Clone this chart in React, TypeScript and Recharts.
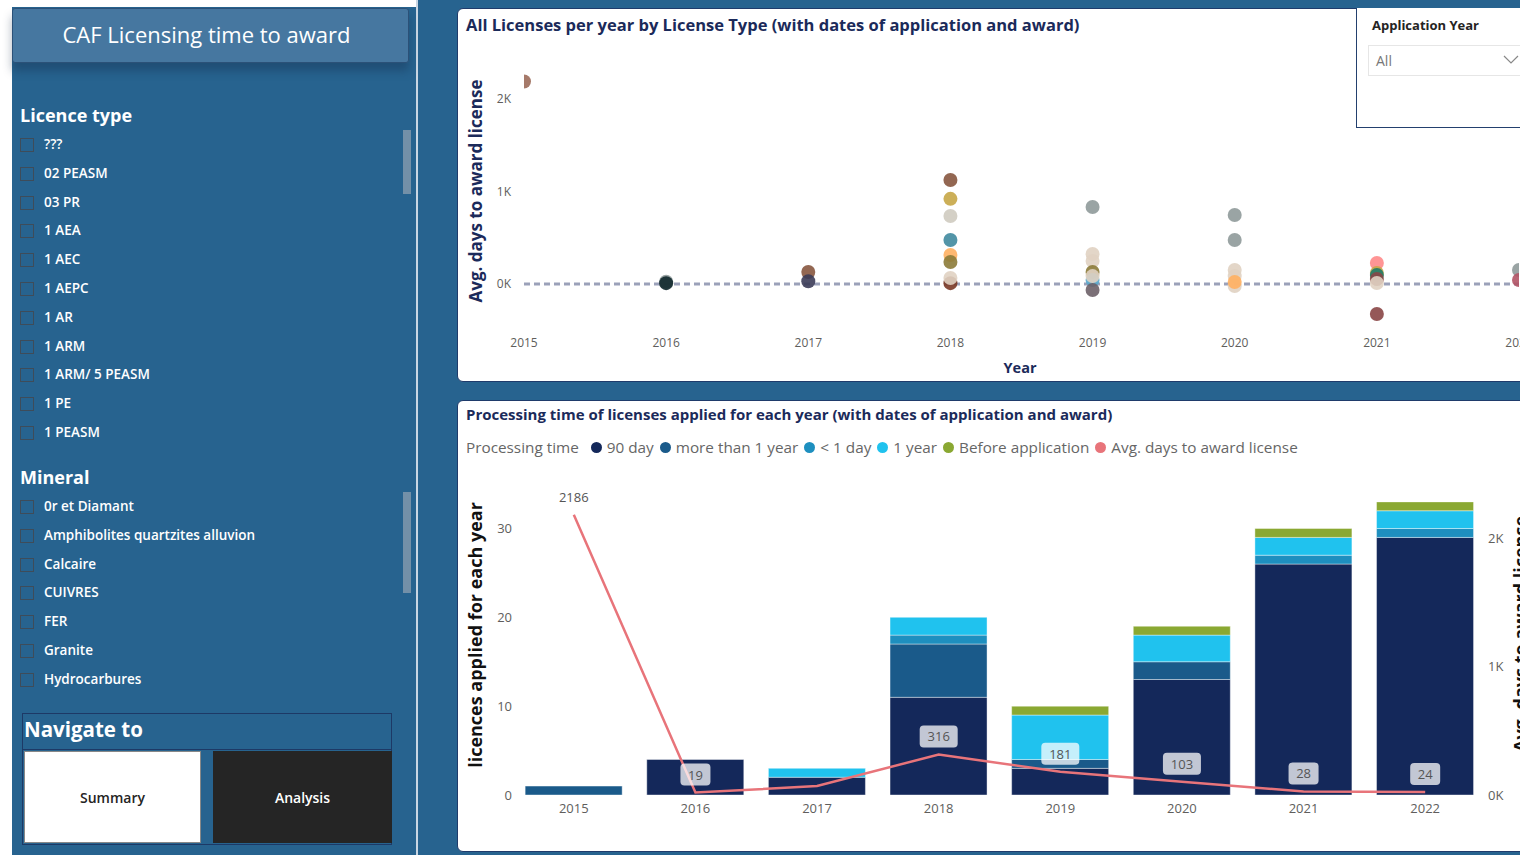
import React from "react";
import {
  ScatterChart,
  Scatter,
  ComposedChart,
  Bar,
  Line,
  LabelList,
  XAxis,
  YAxis,
  ReferenceLine,
} from "recharts";

const FONT = "'Open Sans', 'Noto Sans', sans-serif";
const NAVY = "#1b2a5a";
const TICK = "#605e5c";

const years = [2015, 2016, 2017, 2018, 2019, 2020, 2021, 2022];

// licences applied for each year, split by processing time
const ninetyDay = [0, 4, 2, 11, 3, 13, 26, 29];
const moreThanYear = [1, 0, 0, 6, 1, 2, 0, 0];
const underDay = [0, 0, 0, 1, 0, 0, 1, 1];
const oneYear = [0, 0, 1, 2, 5, 3, 2, 2];
const beforeApplication = [0, 0, 0, 0, 1, 1, 1, 1];
const avgDays = [2186, 19, 70, 316, 181, 103, 28, 24];

// scatter: one point per licence type and year
const scatterYear = [
  2015,
  2016, 2016,
  2017, 2017,
  2018, 2018, 2018, 2018, 2018, 2018, 2018, 2018,
  2019, 2019, 2019, 2019, 2019, 2019, 2019,
  2020, 2020, 2020, 2020, 2020, 2020,
  2021, 2021, 2021, 2021, 2021, 2021,
  2022, 2022,
];
const scatterDays = [
  2186,
  25, 10,
  130, 30,
  1124, 920, 735, 476, 314, 238, 10, 65,
  832, 324, 249, 130, 43, -65, 86,
  746, 476, 151, 86, -22, 22,
  227, 120, 97, 54, 11, -324,
  151, 43,
];
const scatterType = [
  0,
  11, 1,
  3, 2,
  3, 4, 5, 6, 7, 8, 10, 9,
  11, 9, 9, 8, 12, 13, 9,
  11, 11, 9, 9, 9, 7,
  14, 4, 15, 16, 9, 16,
  11, 17,
];
const typeColors = [
  "#9c6b5a", "#10282c", "#3c3c58", "#87573f", "#c6a646", "#cfcbc0",
  "#40899f", "#ffb062", "#8c7b38", "#e0d2c2", "#7a3826", "#8f9a9a",
  "#5aa8cc", "#6d6068", "#ff8a8a", "#1f7a68", "#8a4646", "#b25466",
];

const licenceTypes = [
  "???", "02 PEASM", "03 PR", "1 AEA", "1 AEC", "1 AEPC",
  "1 AR", "1 ARM", "1 ARM/ 5 PEASM", "1 PE", "1 PEASM",
];
const minerals = [
  "0r et Diamant", "Amphibolites quartzites alluvion", "Calcaire",
  "CUIVRES", "FER", "Granite", "Hydrocarbures",
];

const legendItems = [
  { name: "90 day", color: "#14285a" },
  { name: "more than 1 year", color: "#1a5a8a" },
  { name: "< 1 day", color: "#1e8fbf" },
  { name: "1 year", color: "#20c2ee" },
  { name: "Before application", color: "#8aa832" },
  { name: "Avg. days to award license", color: "#e8747a" },
];

const scatterData = scatterYear.map((year, i) => ({
  year,
  days: scatterDays[i],
  type: scatterType[i],
}));

const barData = years.map((year, i) => ({
  year: String(year),
  d90: ninetyDay[i],
  over1y: moreThanYear[i],
  under1d: underDay[i],
  y1: oneYear[i],
  before: beforeApplication[i],
  avg: avgDays[i],
}));

const kFormat = (v: number) => `${v / 1000}K`;

function Dot(props: any) {
  const { cx, cy, payload } = props;
  if (cx == null || cy == null) return null;
  return <circle cx={cx} cy={cy} r={7} fill={typeColors[payload.type]} fillOpacity={0.9} />;
}

function AvgLabel(props: any) {
  const { x, y, value, index } = props;
  // Power BI hid the 2017 label (overlaps the bar)
  if (index === 2 || x == null) return null;
  if (index === 0) {
    return (
      <text x={x} y={y - 18} textAnchor="middle" dominantBaseline="central" fill="#555" fontSize={13} fontFamily={FONT}>
        {value}
      </text>
    );
  }
  const w = String(value).length * 8 + 14;
  return (
    <g>
      <rect x={x - w / 2} y={y - 29} width={w} height={22} rx={4} fill="#ffffff" fillOpacity={0.74} />
      <text x={x} y={y - 18} textAnchor="middle" dominantBaseline="central" fill="#555" fontSize={13} fontFamily={FONT}>
        {value}
      </text>
    </g>
  );
}

function VLabel({ text, cx, cy, color, size }: { text: string; cx: number; cy: number; color: string; size: number }) {
  return (
    <div
      style={{
        position: "absolute",
        left: cx,
        top: cy,
        transform: "translate(-50%, -50%) rotate(-90deg)",
        whiteSpace: "nowrap",
        fontWeight: 700,
        fontSize: size,
        color,
      }}
    >
      {text}
    </div>
  );
}

function SlicerList({ title, items, top, scrollTop, scrollHeight }: { title: string; items: string[]; top: number; scrollTop: number; scrollHeight: number }) {
  return (
    <>
      <div style={{ position: "absolute", left: 20, top: top - 14, fontSize: 18, fontWeight: 700, color: "#fff" }}>{title}</div>
      {items.map((it, i) => {
        const cy = top + 28 + i * 28.8;
        return (
          <React.Fragment key={it}>
            <div
              style={{
                position: "absolute",
                left: 20,
                top: cy - 7,
                width: 12,
                height: 12,
                border: "1px solid #3e4c5a",
              }}
            />
            <div style={{ position: "absolute", left: 44, top: cy - 10, fontSize: 13.5, fontWeight: 600, color: "#fff", whiteSpace: "nowrap" }}>{it}</div>
          </React.Fragment>
        );
      })}
      <div style={{ position: "absolute", left: 403, top: scrollTop, width: 8, height: scrollHeight, background: "#7390a8" }} />
    </>
  );
}

export default function App() {
  return (
    <div style={{ position: "fixed", inset: 0, overflow: "hidden", background: "#fff", fontFamily: FONT }}>
      {/* sidebar + canvas background */}
      <div style={{ position: "absolute", left: 12, top: 7, width: 404, height: 848, background: "#27638f" }} />
      <div style={{ position: "absolute", left: 416, top: 0, width: 1104, height: 855, background: "#27638f" }} />
      <div style={{ position: "absolute", left: 416, top: 0, width: 2, height: 855, background: "#c9d6e3" }} />

      {/* header */}
      <div
        style={{
          position: "absolute",
          left: 12,
          top: 8,
          width: 397,
          height: 55,
          boxSizing: "border-box",
          background: "#4677a0",
          border: "1px solid #2b5178",
          borderRadius: 3,
          boxShadow: "0 8px 10px rgba(20,40,70,0.35)",
          color: "#fff",
          fontSize: 22,
          display: "flex",
          alignItems: "center",
          justifyContent: "center",
          paddingBottom: 4,
          paddingRight: 8,
        }}
      >
        CAF Licensing time to award
      </div>

      <SlicerList title="Licence type" items={licenceTypes} top={117} scrollTop={130} scrollHeight={64} />
      <SlicerList title="Mineral" items={minerals} top={479} scrollTop={492} scrollHeight={101} />

      {/* navigation */}
      <div style={{ position: "absolute", left: 22, top: 713, width: 370, height: 132, boxSizing: "border-box", border: "1px solid #1d3966" }} />
      <div style={{ position: "absolute", left: 22, top: 749, width: 370, height: 1, background: "#1d3966" }} />
      <div style={{ position: "absolute", left: 24, top: 715, fontSize: 20.5, fontWeight: 700, color: "#fff" }}>Navigate to</div>
      <div
        style={{
          position: "absolute",
          left: 24,
          top: 751,
          width: 177,
          height: 92,
          boxSizing: "border-box",
          background: "#fff",
          border: "1px solid #888",
          display: "flex",
          alignItems: "center",
          justifyContent: "center",
          fontSize: 14,
          fontWeight: 600,
          color: "#252423",
        }}
      >
        Summary
      </div>
      <div
        style={{
          position: "absolute",
          left: 213,
          top: 751,
          width: 179,
          height: 92,
          background: "#252525",
          display: "flex",
          alignItems: "center",
          justifyContent: "center",
          fontSize: 14,
          fontWeight: 600,
          color: "#fff",
        }}
      >
        Analysis
      </div>

      {/* scatter card */}
      <div style={{ position: "absolute", left: 457, top: 8, width: 1100, height: 374, boxSizing: "border-box", background: "#fff", border: "1px solid #1f3b6b", borderRadius: 6 }} />
      <div style={{ position: "absolute", left: 466, top: 13, fontSize: 16.5, fontWeight: 700, color: NAVY, whiteSpace: "nowrap" }}>
        All Licenses per year by License Type (with dates of application and award)
      </div>
      <div style={{ position: "absolute", left: 457, top: 8 }}>
        <ScatterChart width={1100} height={374} margin={{ top: 63, right: 38, bottom: 17, left: 0 }}>
          <XAxis
            type="number"
            dataKey="year"
            domain={[2015, 2022]}
            ticks={years}
            allowDataOverflow
            axisLine={false}
            tickLine={false}
            tickSize={0}
            tickMargin={3}
            height={30}
            tick={{ fill: TICK, fontSize: 12, fontFamily: FONT }}
          />
          <YAxis
            type="number"
            dataKey="days"
            domain={[-550, 2300]}
            ticks={[0, 1000, 2000]}
            tickFormatter={kFormat}
            axisLine={false}
            tickLine={false}
            tickSize={0}
            tickMargin={13}
            width={67}
            tick={{ fill: TICK, fontSize: 12, fontFamily: FONT }}
          />
          <ReferenceLine y={0} stroke="#9ba1b9" strokeWidth={3} strokeDasharray="6 4" />
          <Scatter data={scatterData} shape={<Dot />} isAnimationActive={false} />
        </ScatterChart>
      </div>
      <VLabel text="Avg. days to award license" cx={475} cy={191} color={NAVY} size={17} />
      <div style={{ position: "absolute", left: 1020, top: 367, transform: "translate(-50%, -50%)", fontSize: 14.5, fontWeight: 700, color: NAVY }}>
        Year
      </div>

      {/* application year slicer */}
      <div style={{ position: "absolute", left: 1356, top: 8, width: 200, height: 120, boxSizing: "border-box", background: "#fff", borderLeft: "1px solid #23406e", borderBottom: "1px solid #23406e" }} />
      <div style={{ position: "absolute", left: 1372, top: 16, fontSize: 13, fontWeight: 700, color: "#252423", whiteSpace: "nowrap" }}>Application Year</div>
      <div style={{ position: "absolute", left: 1368, top: 45, width: 200, height: 31, boxSizing: "border-box", border: "1px solid #e6e6e6" }} />
      <div style={{ position: "absolute", left: 1376, top: 51, fontSize: 14, color: "#777" }}>All</div>
      <svg style={{ position: "absolute", left: 1503, top: 55 }} width={16} height={10}>
        <polyline points="1,1 8,8 15,1" fill="none" stroke="#888" strokeWidth={1.2} />
      </svg>

      {/* bar card */}
      <div style={{ position: "absolute", left: 457, top: 400, width: 1100, height: 452, boxSizing: "border-box", background: "#fff", border: "1px solid #1f3b6b", borderRadius: 6 }} />
      <div style={{ position: "absolute", left: 466, top: 404, fontSize: 15, fontWeight: 700, color: NAVY, whiteSpace: "nowrap" }}>
        Processing time of licenses applied for each year (with dates of application and award)
      </div>
      <div style={{ position: "absolute", left: 466, top: 437, display: "flex", alignItems: "center", fontSize: 15.3, color: "#666", whiteSpace: "nowrap" }}>
        <span style={{ marginRight: 12 }}>Processing time</span>
        {legendItems.map((it) => (
          <React.Fragment key={it.name}>
            <span style={{ width: 11, height: 11, borderRadius: 6, background: it.color, marginRight: 5, display: "inline-block" }} />
            <span style={{ marginRight: 6 }}>{it.name}</span>
          </React.Fragment>
        ))}
      </div>
      <div style={{ position: "absolute", left: 457, top: 470 }}>
        <ComposedChart width={1100} height={380} data={barData} margin={{ top: 23, right: 31, bottom: 25, left: 0 }} barCategoryGap="10%">
          <XAxis
            dataKey="year"
            axisLine={false}
            tickLine={false}
            tickSize={0}
            tickMargin={9}
            height={30}
            tick={{ fill: TICK, fontSize: 13, fontFamily: FONT }}
          />
          <YAxis
            yAxisId="left"
            domain={[0, 34]}
            ticks={[0, 10, 20, 30]}
            axisLine={false}
            tickLine={false}
            tickSize={0}
            tickMargin={1}
            width={56}
            tick={{ fill: TICK, fontSize: 13, fontFamily: FONT }}
          />
          <YAxis
            yAxisId="right"
            orientation="right"
            domain={[0, 2356]}
            ticks={[0, 1000, 2000]}
            tickFormatter={kFormat}
            axisLine={false}
            tickLine={false}
            tickSize={0}
            tickMargin={2}
            width={40}
            tick={{ fill: TICK, fontSize: 13, fontFamily: FONT }}
          />
          <Bar yAxisId="left" dataKey="d90" stackId="p" fill="#14285a" stroke="#ffffff" strokeOpacity={0.4} isAnimationActive={false} />
          <Bar yAxisId="left" dataKey="over1y" stackId="p" fill="#1a5a8a" stroke="#ffffff" strokeOpacity={0.4} isAnimationActive={false} />
          <Bar yAxisId="left" dataKey="under1d" stackId="p" fill="#1e8fbf" stroke="#ffffff" strokeOpacity={0.4} isAnimationActive={false} />
          <Bar yAxisId="left" dataKey="y1" stackId="p" fill="#20c2ee" stroke="#ffffff" strokeOpacity={0.4} isAnimationActive={false} />
          <Bar yAxisId="left" dataKey="before" stackId="p" fill="#8aa832" stroke="#ffffff" strokeOpacity={0.4} isAnimationActive={false} />
          <Line yAxisId="right" type="linear" dataKey="avg" stroke="#e8747a" strokeWidth={2.5} dot={false} isAnimationActive={false}>
            <LabelList dataKey="avg" content={<AvgLabel />} />
          </Line>
        </ComposedChart>
      </div>
      <VLabel text="licences applied for each year" cx={475} cy={635} color="#111" size={18} />
      <VLabel text="Avg. days to award license" cx={1520} cy={634} color="#111" size={18} />
    </div>
  );
}
